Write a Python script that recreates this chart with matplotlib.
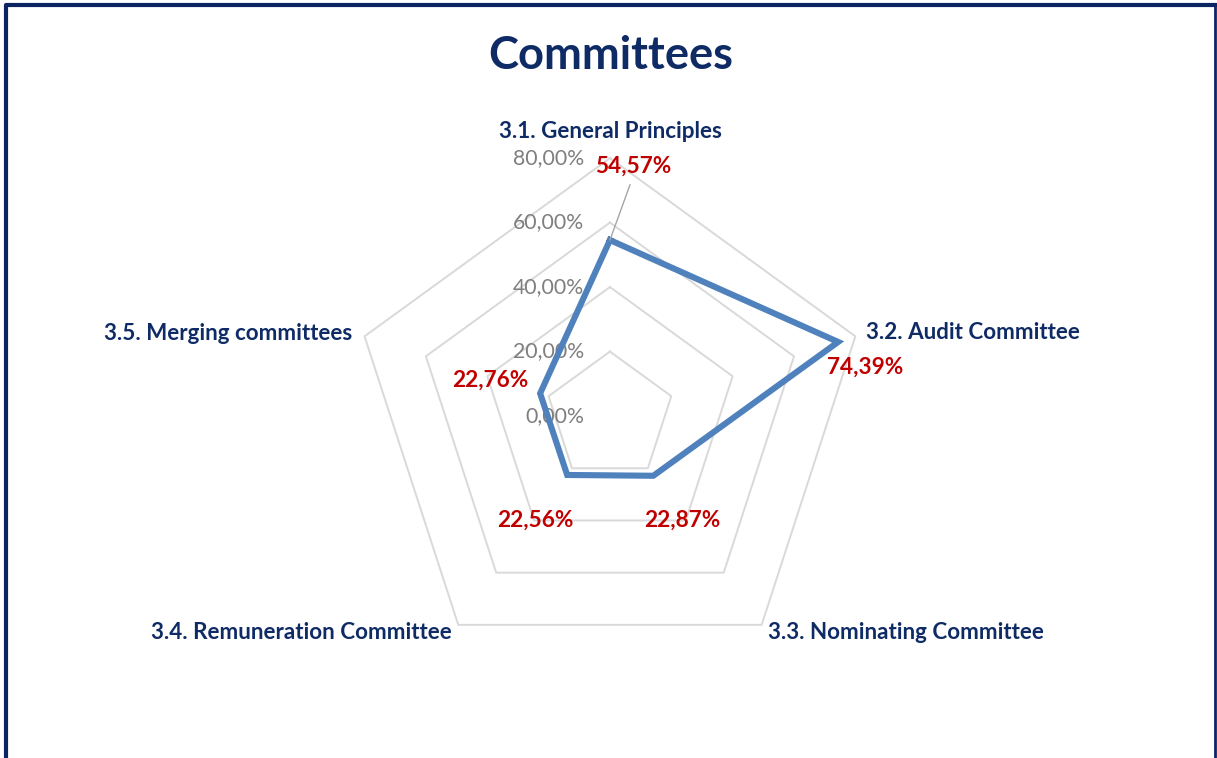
import numpy as np
import matplotlib
matplotlib.use('Agg')
import matplotlib.pyplot as plt
from matplotlib.lines import Line2D

# data
categories = ['3.1. General Principles', '3.2. Audit Committee', '3.3. Nominating Committee',
              '3.4. Remuneration Committee', '3.5. Merging committees']
values = [54.57, 74.39, 22.87, 22.56, 22.76]
value_labels = ['54,57%', '74,39%', '22,87%', '22,56%', '22,76%']
ring_levels = [0, 20, 40, 60, 80]
ring_labels = ['0,00%', '20,00%', '40,00%', '60,00%', '80,00%']

NAVY = '#0F2B66'
RED = '#C00000'
FONT = 'Lato'

# angles: first category at top, going clockwise
angles = np.pi / 2 - 2 * np.pi * np.arange(len(categories)) / len(categories)
closed = np.append(angles, angles[0])

fig = plt.figure(figsize=(12.17, 7.58), dpi=100)
ax = fig.add_axes([0, 0, 1, 1])
ax.set_xlim(-189.1, 188.2)
ax.set_ylim(-106.0, 129.0)
ax.axis('off')

# pentagon grid
for lvl in ring_levels[1:]:
    ax.plot(lvl * np.cos(closed), lvl * np.sin(closed), color='#D9D9D9', lw=1.4, zorder=1)

# ring labels
for lvl, lab in zip(ring_levels, ring_labels):
    ax.text(-8.1, lvl, lab, ha='right', va='center', color='#7F7F7F', fontsize=15.3, family=FONT, zorder=2)

# series
v = np.array(values + values[:1])
ax.plot(v * np.cos(closed), v * np.sin(closed), color='#4F81BD', lw=4.4,
        solid_joinstyle='miter', zorder=3)

# category labels
cat_offsets = [(0, 27, 'center'), (11, 4, 'left'), (6, -8, 'left'), (-7, -8, 'right'), (-12, 3, 'right')]
rmax = ring_levels[-1]
for a, cat, (dx, dy, ha) in zip(angles, categories, cat_offsets):
    ax.annotate(cat, xy=(rmax * np.cos(a), rmax * np.sin(a)), xytext=(dx, dy),
                textcoords='offset pixels', ha=ha, va='center', fontsize=16.1,
                fontweight='bold', color=NAVY, family=FONT)

# value labels
val_offsets = [(23, 74), (27, -25), (29, -44), (-32, -45), (-50, 13)]
for i, (a, val, lab, (dx, dy)) in enumerate(zip(angles, values, value_labels, val_offsets)):
    arrow = None
    if i == 0:
        arrow = dict(arrowstyle='-', color='#A6A6A6', lw=1, relpos=(0.5, 0), shrinkA=4, shrinkB=0)
    ax.annotate(lab, xy=(val * np.cos(a), val * np.sin(a)), xytext=(dx, dy),
                textcoords='offset pixels', ha='center', va='center', fontsize=16.3,
                fontweight='bold', color=RED, family=FONT, arrowprops=arrow, zorder=4)

fig.text(611 / 1217, 1 - 56 / 758, 'Committees', ha='center', va='center', fontsize=32.6,
         fontweight='bold', color=NAVY, family=FONT)

# chart border (left, top, right)
fig.add_artist(Line2D([6 / 1217, 6 / 1217, 1215 / 1217], [0, 1 - 5 / 758, 1 - 5 / 758],
                      transform=fig.transFigure, color='#0B2462', lw=3))
fig.add_artist(Line2D([1215 / 1217, 1215 / 1217], [1 - 5 / 758, 0],
                      transform=fig.transFigure, color='#0B2462', lw=2))

fig.savefig('out.png', dpi=100)
